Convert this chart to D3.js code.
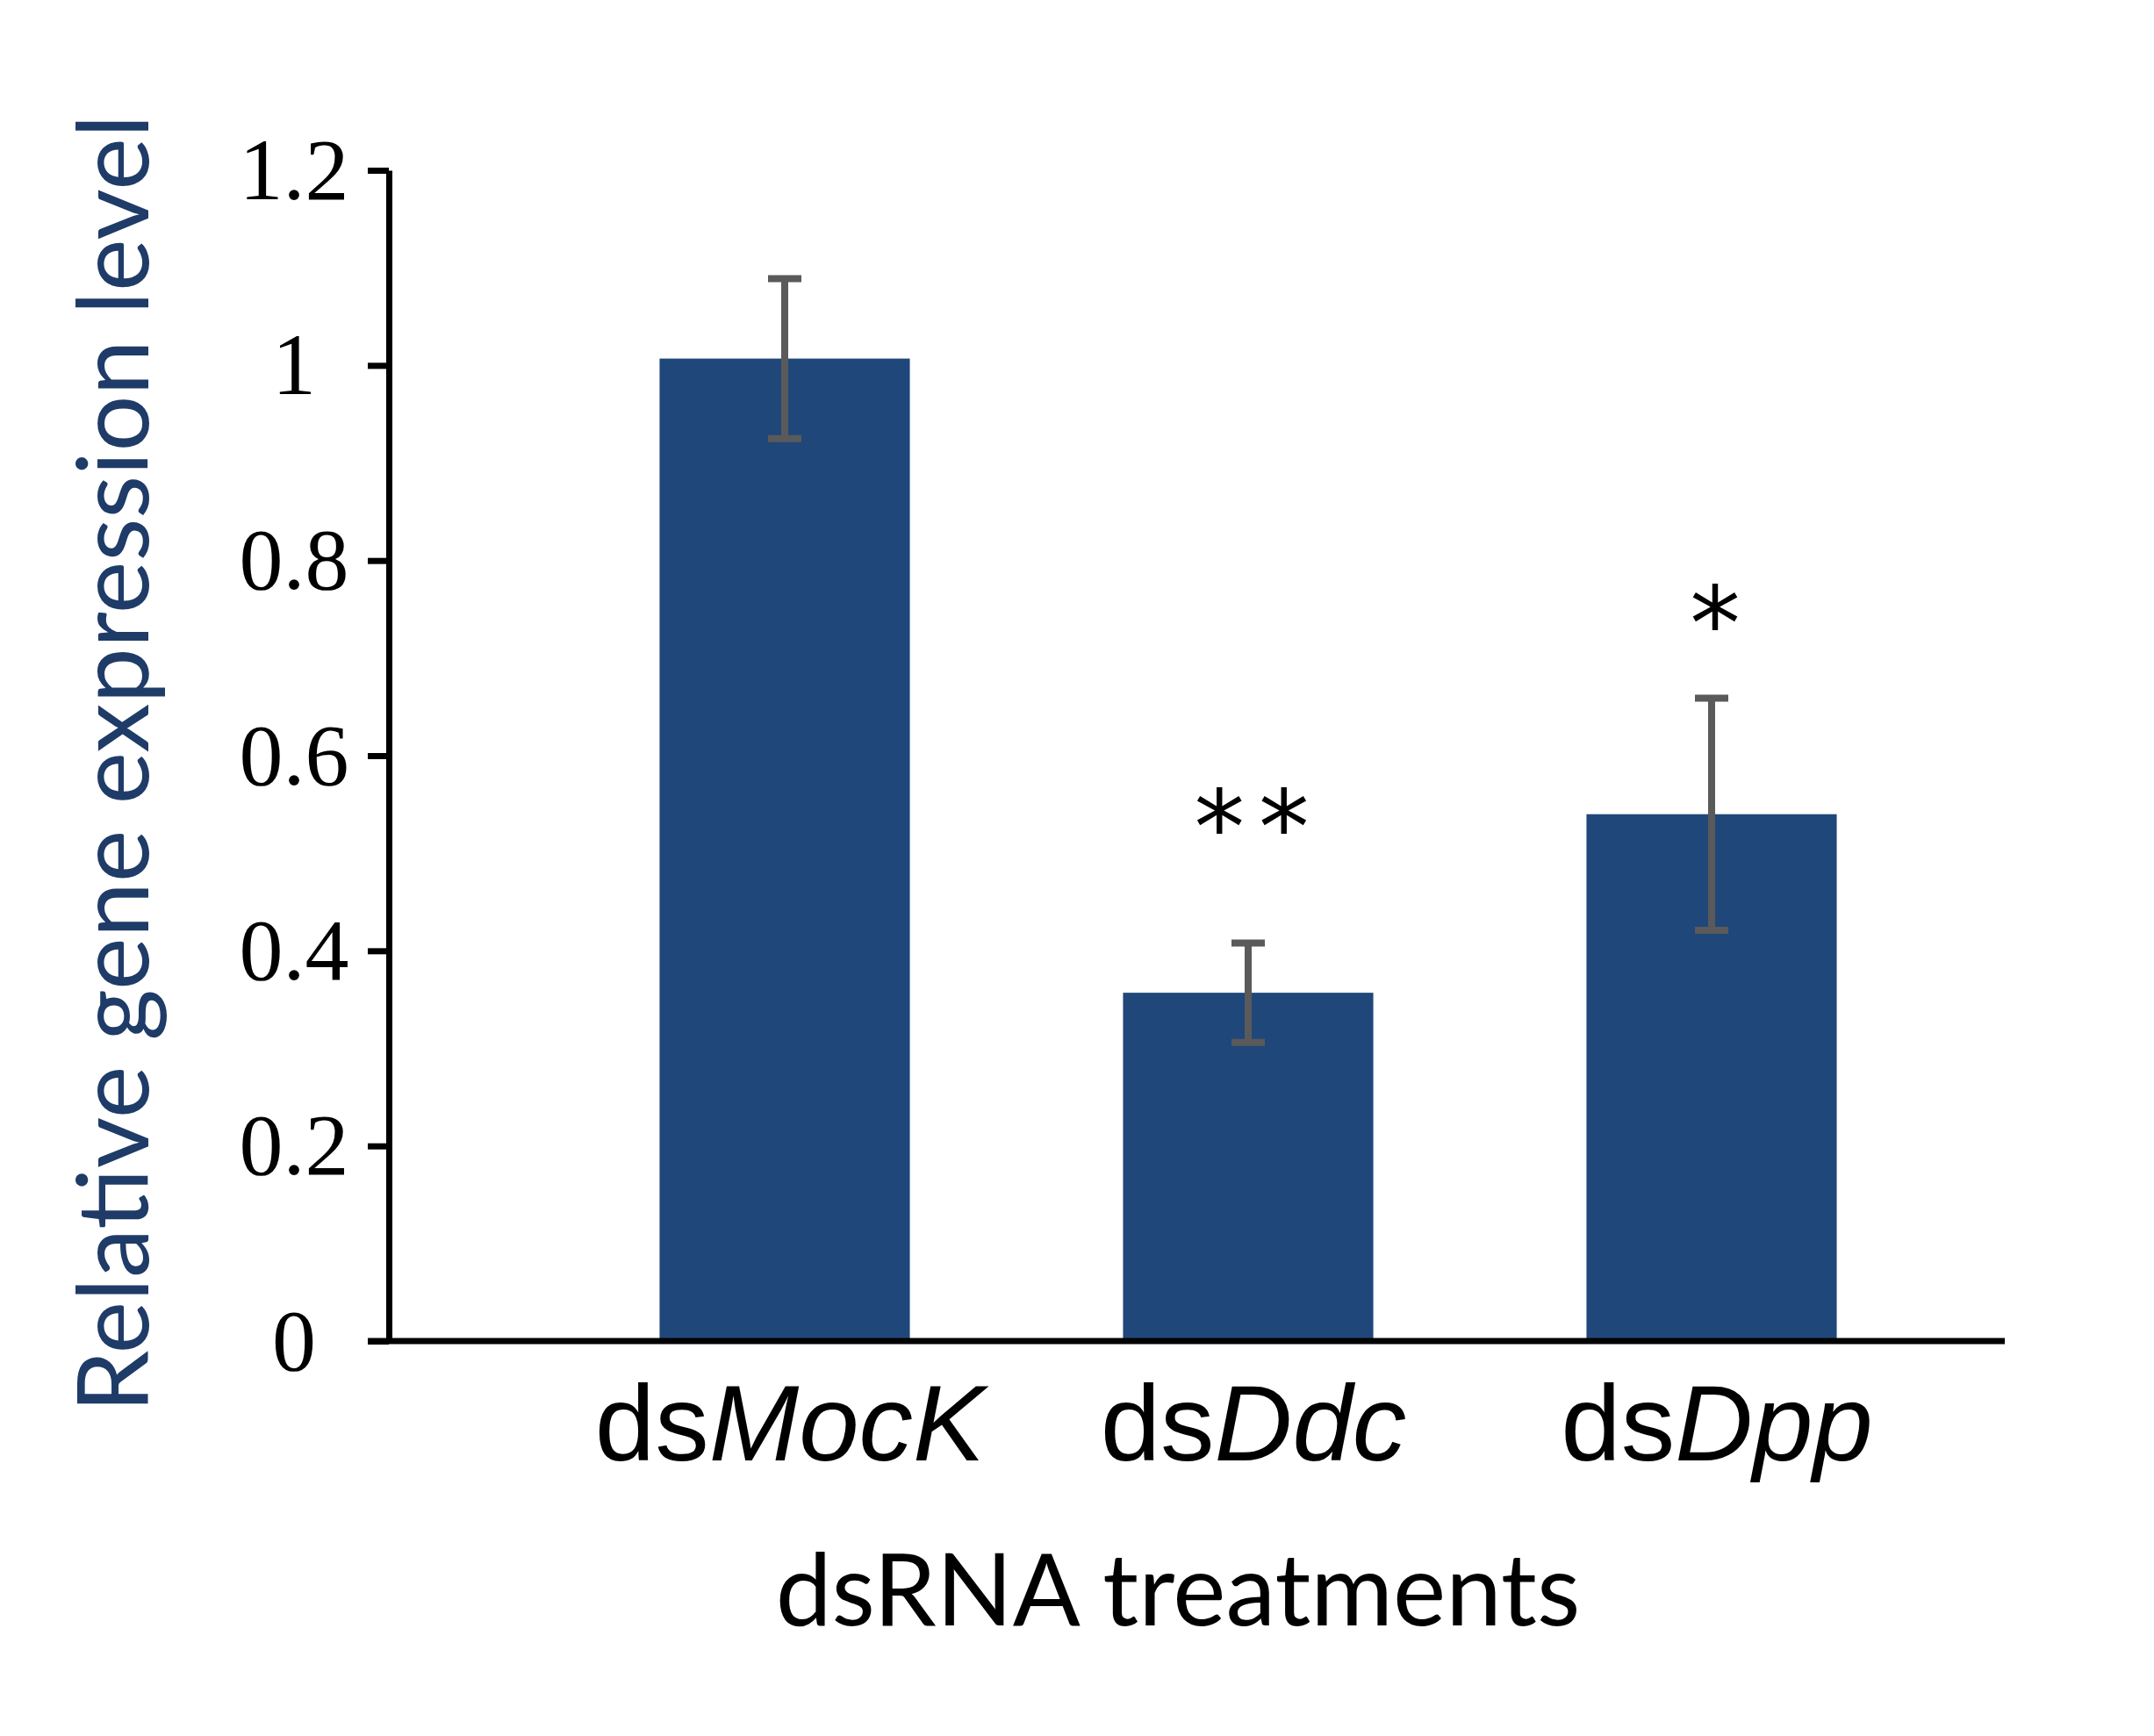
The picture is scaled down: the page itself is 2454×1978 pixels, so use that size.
<!DOCTYPE html>
<html>
<head>
<meta charset="utf-8">
<script src="https://cdn.jsdelivr.net/npm/d3@7"></script>
<style>
  body { margin: 0; background: #ffffff; }
</style>
</head>
<body>
<script>

// Values
var treatments = ["MocK", "Ddc", "Dpp"];
var expression = [1.007, 0.357, 0.540];
var errors = [0.082, 0.051, 0.119];
var significance = ["", "**", "*"];
var significanceLevel = [null, 0.545, 0.754];
var yTicks = [0, 0.2, 0.4, 0.6, 0.8, 1, 1.2];
var yTickLabels = ["0", "0.2", "0.4", "0.6", "0.8", "1", "1.2"];

window.onload = function() {
    draw_chart();
};

function draw_chart(){

    // Width and heights
    var width_svg = 2454;
    var height_svg = 1978;
    var axis_x = 443;
    var axis_top = 194;
    var axis_bottom = 1528;
    var axis_right = 2284;
    var tick_len = 24;

    var bar_color = "#20477a";
    var err_color = "#5a5a5a";

    var svg = d3.select("body")
                .append("svg")
                .attr("width", width_svg)
                .attr("height", height_svg);

    // Scales
    var yScale = d3.scaleLinear()
                    .domain([0, 1.2])
                    .range([axis_bottom, axis_top]);

    var xScale = d3.scaleBand()
                    .domain(treatments)
                    .range([630, 2214])
                    .paddingInner(0.46)
                    .paddingOuter(0.23);

    // Bars
    svg.selectAll("rect.bar")
        .data(treatments)
        .enter()
        .append("rect")
        .attr("class", "bar")
        .attr("x", function(d) { return xScale(d); })
        .attr("width", xScale.bandwidth())
        .attr("y", function(d, i) { return yScale(expression[i]); })
        .attr("height", function(d, i) { return yScale(0) - yScale(expression[i]); })
        .attr("fill", bar_color);

    // Error bars
    var cap = 19;
    var errs = svg.selectAll("g.err")
        .data(treatments)
        .enter()
        .append("g")
        .attr("class", "err")
        .attr("stroke", err_color)
        .attr("stroke-width", 8);

    errs.append("line")
        .attr("x1", function(d) { return xScale(d) + xScale.bandwidth() / 2; })
        .attr("x2", function(d) { return xScale(d) + xScale.bandwidth() / 2; })
        .attr("y1", function(d, i) { return yScale(expression[i] + errors[i]); })
        .attr("y2", function(d, i) { return yScale(expression[i] - errors[i]); });

    errs.append("line")
        .attr("x1", function(d) { return xScale(d) + xScale.bandwidth() / 2 - cap; })
        .attr("x2", function(d) { return xScale(d) + xScale.bandwidth() / 2 + cap; })
        .attr("y1", function(d, i) { return yScale(expression[i] + errors[i]); })
        .attr("y2", function(d, i) { return yScale(expression[i] + errors[i]); });

    errs.append("line")
        .attr("x1", function(d) { return xScale(d) + xScale.bandwidth() / 2 - cap; })
        .attr("x2", function(d) { return xScale(d) + xScale.bandwidth() / 2 + cap; })
        .attr("y1", function(d, i) { return yScale(expression[i] - errors[i]); })
        .attr("y2", function(d, i) { return yScale(expression[i] - errors[i]); });

    // Significance stars
    svg.selectAll("text.sig")
        .data(treatments)
        .enter()
        .filter(function(d, i) { return significance[i] !== ""; })
        .append("text")
        .attr("class", "sig")
        .attr("x", function(d) { return xScale(d) + xScale.bandwidth() / 2 + 12; })
        .attr("y", function(d) { return yScale(significanceLevel[treatments.indexOf(d)]); })
        .attr("dy", "0.53em")
        .attr("text-anchor", "middle")
        .attr("font-family", "DejaVu Sans")
        .attr("font-size", "115px")
        .attr("letter-spacing", "16px")
        .attr("fill", "#000")
        .text(function(d) { return significance[treatments.indexOf(d)]; });

    // Y axis
    var yAxis = d3.axisLeft(yScale)
                  .tickValues(yTicks)
                  .tickFormat(function(d, i) { return yTickLabels[i]; })
                  .tickSize(tick_len)
                  .tickSizeOuter(0);

    var gy = svg.append("g")
        .attr("transform", "translate(" + axis_x + ",0)")
        .call(yAxis);

    gy.select(".domain").attr("stroke", "#000").attr("stroke-width", 7);
    gy.selectAll(".tick line").attr("stroke", "#000").attr("stroke-width", 7);
    gy.selectAll(".tick text")
        .attr("x", -108)
        .attr("text-anchor", "middle")
        .attr("font-family", "Liberation Serif")
        .attr("font-size", "100px")
        .attr("fill", "#000");

    // X axis line
    svg.append("line")
        .attr("x1", axis_x - tick_len)
        .attr("x2", axis_right)
        .attr("y1", yScale(0))
        .attr("y2", yScale(0))
        .attr("stroke", "#000")
        .attr("stroke-width", 7);

    // Category labels
    var labels = svg.selectAll("text.cat")
        .data(treatments)
        .enter()
        .append("text")
        .attr("class", "cat")
        .attr("x", function(d) { return xScale(d) + xScale.bandwidth() / 2 + 6; })
        .attr("y", 1664)
        .attr("text-anchor", "middle")
        .attr("font-family", "Liberation Sans")
        .attr("font-size", "123px")
        .attr("fill", "#000");

    labels.append("tspan").text("ds");
    labels.append("tspan")
        .attr("font-style", "italic")
        .text(function(d) { return d; });

    // Axis titles
    svg.append("text")
        .attr("x", 1342)
        .attr("y", 1852)
        .attr("text-anchor", "middle")
        .attr("font-family", "Lato")
        .attr("font-size", "114px")
        .attr("fill", "#000")
        .text("dsRNA treatments");

    svg.append("text")
        .attr("transform", "translate(169, 870) rotate(-90)")
        .attr("text-anchor", "middle")
        .attr("font-family", "Lato")
        .attr("font-size", "113px")
        .attr("fill", "#1f3b68")
        .text("Relative gene expression level");
}

</script>
</body>
</html>
